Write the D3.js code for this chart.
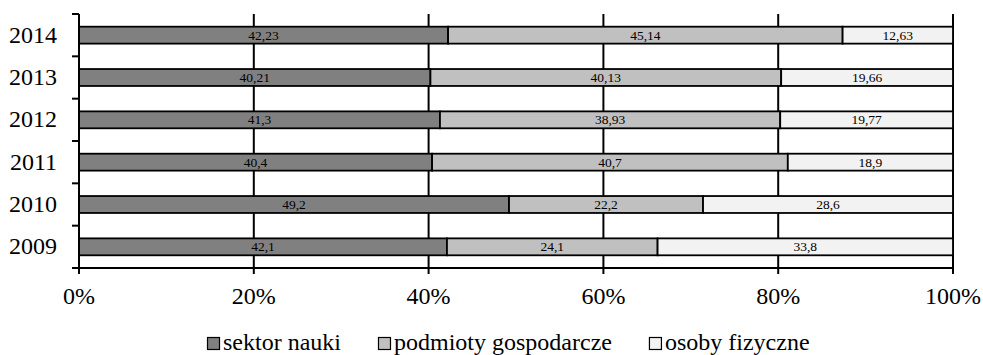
<!DOCTYPE html>
<html><head><meta charset="utf-8">
<script src="https://cdn.jsdelivr.net/npm/d3@7"></script>
<style>body{margin:0;background:#fff}svg{display:block}text{font-family:"Liberation Serif","Times New Roman",serif}</style>
</head><body><svg id="c" width="983" height="355"></svg>
<script>
const years = ["2014","2013","2012","2011","2010","2009"];
const seriesNames = ["sektor nauki","podmioty gospodarcze","osoby fizyczne"];
const sektorNauki = [42.23,40.21,41.3,40.4,49.2,42.1];
const podmioty = [45.14,40.13,38.93,40.7,22.2,24.1];
const osoby = [12.63,19.66,19.77,18.9,28.6,33.8];
const labels = [
  ["42,23","40,21","41,3","40,4","49,2","42,1"],
  ["45,14","40,13","38,93","40,7","22,2","24,1"],
  ["12,63","19,66","19,77","18,9","28,6","33,8"]
];
const xTicks = [0,20,40,60,80,100];
const colors = ["#808080","#c0c0c0","#f2f2f2"];

const svg = d3.select("#c");
const m = {l:79, t:14};
const PW = 874, PH = 254;
const g = svg.append("g").attr("transform",`translate(${m.l},${m.t})`);
const x = d3.scaleLinear().domain([0,100]).range([0,PW]);
const y = d3.scaleBand().domain(years).range([0,PH]).paddingInner(0.6).paddingOuter(0.3);
const band = d3.scaleBand().domain(years).range([0,PH]);

// gridlines
g.selectAll(".grid").data(xTicks.slice(1)).join("line")
  .attr("x1",d=>x(d)).attr("x2",d=>x(d)).attr("y1",0).attr("y2",PH)
  .attr("stroke","#000").attr("stroke-width",2);

const series = [sektorNauki,podmioty,osoby];
const rows = years.map((yr,i)=>{let c=0;return series.map((s,k)=>{const o={yr,k,x0:c,x1:c+s[i],lab:labels[k][i]};c+=s[i];return o;});}).flat();

g.selectAll(".bar").data(rows).join("rect")
  .attr("x",d=>x(d.x0)).attr("width",d=>x(d.x1)-x(d.x0))
  .attr("y",d=>y(d.yr)).attr("height",y.bandwidth())
  .attr("fill",d=>colors[d.k]).attr("stroke","#000").attr("stroke-width",1.8);

g.selectAll(".lab").data(rows).join("text")
  .attr("x",d=>x((d.x0+d.x1)/2)).attr("y",d=>y(d.yr)+y.bandwidth()/2+4.5)
  .attr("text-anchor","middle")
  .attr("font-size",13.5).attr("fill","#000").text(d=>d.lab);

// y axis
g.append("line").attr("x1",0).attr("x2",0).attr("y1",0).attr("y2",PH).attr("stroke","#000").attr("stroke-width",2);
const yb = years.map(yr=>band(yr)).concat([PH]);
g.selectAll(".yt").data(yb).join("line")
  .attr("x1",-7).attr("x2",0).attr("y1",d=>d).attr("y2",d=>d).attr("stroke","#000").attr("stroke-width",2);
g.selectAll(".yl").data(years).join("text")
  .attr("x",-22).attr("y",d=>band(d)+band.bandwidth()/2+7.5)
  .attr("text-anchor","end")
  .attr("font-size",24).text(d=>d);

// x axis
g.append("line").attr("x1",0).attr("x2",PW).attr("y1",PH).attr("y2",PH).attr("stroke","#000").attr("stroke-width",2);
g.selectAll(".xt").data(xTicks).join("line")
  .attr("x1",d=>x(d)).attr("x2",d=>x(d)).attr("y1",PH).attr("y2",PH+6).attr("stroke","#000").attr("stroke-width",2);
g.selectAll(".xl").data(xTicks).join("text")
  .attr("x",d=>x(d)).attr("y",290).attr("text-anchor","middle")
  .attr("font-size",24).text(d=>d+"%");

// legend
const lg = svg.append("g");
let lx = 207;
seriesNames.forEach((n,i)=>{
  lg.append("rect").attr("x",lx+0.5).attr("y",337.5).attr("width",12).attr("height",12)
    .attr("fill",colors[i]).attr("stroke","#000").attr("stroke-width",1.2);
  const t = lg.append("text").attr("x",lx+16).attr("y",350)
    .attr("font-size",24).text(n);
  lx += 16 + t.node().getComputedTextLength() + 37;
});
</script></body></html>
